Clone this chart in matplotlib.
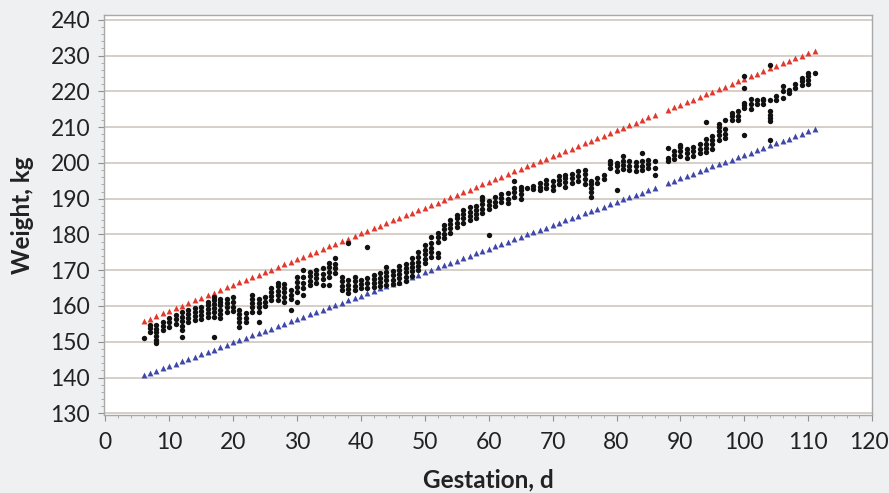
import matplotlib
matplotlib.use("Agg")
import matplotlib.pyplot as plt
from matplotlib.ticker import MultipleLocator

# ---------------- data ----------------
upper_days = [d for d in range(6, 112) if d != 87]
upper_kg = [155.8, 156.5, 157.2, 158.0, 158.7, 159.4, 160.1, 160.8, 161.6, 162.3,
            163.0, 163.7, 164.4, 165.2, 165.9, 166.6, 167.3, 168.0, 168.8, 169.5,
            170.2, 170.9, 171.6, 172.4, 173.1, 173.8, 174.5, 175.2, 176.0, 176.7,
            177.4, 178.1, 178.8, 179.6, 180.3, 181.0, 181.7, 182.4, 183.2, 183.9,
            184.6, 185.3, 186.0, 186.8, 187.5, 188.2, 188.9, 189.6, 190.4, 191.1,
            191.8, 192.5, 193.2, 194.0, 194.7, 195.4, 196.1, 196.8, 197.6, 198.3,
            199.0, 199.7, 200.4, 201.2, 201.9, 202.6, 203.3, 204.0, 204.8, 205.5,
            206.2, 206.9, 207.6, 208.4, 209.1, 209.8, 210.5, 211.2, 212.0, 212.7,
            213.4, 214.8, 215.6, 216.3, 217.0, 217.7, 218.4, 219.2, 219.9, 220.6,
            221.3, 222.0, 222.8, 223.5, 224.2, 224.9, 225.6, 226.4, 227.1, 227.8,
            228.5, 229.2, 230.0, 230.7, 231.4]
lower_days = upper_days
lower_kg = [140.6, 141.3, 141.9, 142.6, 143.2, 143.9, 144.5, 145.2, 145.8, 146.5,
            147.2, 147.8, 148.5, 149.1, 149.8, 150.4, 151.1, 151.8, 152.4, 153.1,
            153.7, 154.4, 155.0, 155.7, 156.3, 157.0, 157.7, 158.3, 159.0, 159.6,
            160.3, 160.9, 161.6, 162.2, 162.9, 163.6, 164.2, 164.9, 165.5, 166.2,
            166.8, 167.5, 168.2, 168.8, 169.5, 170.1, 170.8, 171.4, 172.1, 172.7,
            173.4, 174.1, 174.7, 175.4, 176.0, 176.7, 177.3, 178.0, 178.6, 179.3,
            180.0, 180.6, 181.3, 181.9, 182.6, 183.2, 183.9, 184.5, 185.2, 185.9,
            186.5, 187.2, 187.8, 188.5, 189.1, 189.8, 190.4, 191.1, 191.7, 192.4,
            193.1, 194.4, 195.0, 195.7, 196.3, 197.0, 197.7, 198.3, 199.0, 199.6,
            200.3, 200.9, 201.6, 202.2, 202.9, 203.6, 204.2, 204.9, 205.5, 206.2,
            206.8, 207.5, 208.1, 208.8, 209.5]

# observed sow weights by day of gestation
observed = {
    6: [151.0],
    7: [152.8, 153.8, 154.7],
    8: [149.6, 150.6, 151.6, 152.6, 153.6, 154.7],
    9: [153.3, 154.4, 155.6],
    10: [154.2, 155.4, 156.7],
    11: [155.0, 156.3, 157.6],
    12: [151.4, 153.3, 154.5, 155.7, 156.9, 158.3],
    13: [155.5, 156.7, 157.8, 159.0],
    14: [156.1, 157.2, 158.3, 159.4],
    15: [156.5, 157.6, 158.7, 159.8],
    16: [157.0, 158.1, 159.2, 160.2, 161.2],
    17: [151.4, 157.0, 158.2, 159.4, 160.6, 161.6, 162.6],
    18: [156.6, 157.8, 159.0, 160.2, 161.2, 162.0],
    19: [158.4, 159.6, 160.8, 162.0],
    20: [158.6, 159.8, 161.0, 162.6],
    21: [154.2, 155.4, 156.6, 157.7, 158.9],
    22: [155.5, 156.7, 158.0],
    23: [158.4, 159.6, 160.8, 162.0, 163.1],
    24: [155.6, 158.4, 159.6, 160.8, 162.0],
    25: [160.0, 161.2, 162.4],
    26: [161.7, 162.9, 164.0, 165.1],
    27: [161.7, 163.0, 164.3, 165.5, 166.5],
    28: [161.2, 162.5, 163.8, 165.0, 166.2],
    29: [158.9, 162.0, 163.2, 164.4],
    30: [161.2, 164.0, 165.3, 166.6, 168.0],
    31: [163.0, 165.0, 166.5, 168.0, 170.0],
    32: [165.9, 167.1, 168.3, 169.5],
    33: [166.5, 167.7, 168.9, 170.2],
    34: [165.9, 167.5, 169.0, 170.5],
    35: [166.0, 168.0, 169.5, 171.0, 172.0],
    36: [169.3, 170.6, 171.8, 173.5],
    37: [164.5, 165.7, 166.9, 168.0],
    38: [163.6, 164.8, 166.0, 167.2, 177.6],
    39: [164.5, 165.7, 166.9, 168.2],
    40: [165.0, 166.2, 167.4],
    41: [165.0, 166.5, 167.8, 176.5],
    42: [165.2, 166.4, 167.6, 168.8],
    43: [165.5, 166.7, 167.9, 169.1],
    44: [166.0, 167.2, 168.4, 169.6, 170.8],
    45: [166.2, 167.4, 168.6, 169.8],
    46: [166.5, 167.7, 168.9, 170.1, 171.3],
    47: [167.0, 168.2, 169.4, 170.6, 171.8],
    48: [168.5, 169.7, 170.9, 172.1, 173.3],
    49: [170.0, 171.2, 172.4, 173.6, 175.0],
    50: [172.0, 173.2, 174.4, 175.6, 177.0],
    51: [173.8, 175.0, 176.3, 177.5, 179.4],
    52: [173.8, 174.8, 178.0, 179.2, 180.4],
    53: [179.0, 180.2, 181.4, 182.7],
    54: [180.5, 181.7, 182.9, 184.1],
    55: [182.0, 183.3, 184.5, 185.5],
    56: [183.3, 184.5, 185.7, 186.8],
    57: [184.0, 185.2, 186.4, 187.8],
    58: [184.5, 185.7, 186.9, 188.0],
    59: [186.0, 187.2, 188.4, 189.5, 190.6],
    60: [179.9, 187.0, 188.2, 189.4],
    61: [188.0, 189.2, 190.4],
    62: [189.0, 190.2, 191.4],
    63: [188.8, 190.0, 191.6],
    64: [190.6, 191.8, 193.0, 194.8],
    65: [190.0, 191.2, 192.4, 193.4],
    66: [193.0],
    67: [192.8, 193.6],
    68: [192.5, 193.4, 194.5],
    69: [193.0, 194.2, 195.3],
    70: [192.5, 193.6, 194.8],
    71: [194.0, 195.2, 196.4],
    72: [193.4, 194.6, 195.8, 196.7],
    73: [194.5, 195.7, 196.9],
    74: [195.0, 196.2, 197.6],
    75: [194.0, 195.4, 196.8, 198.0],
    76: [190.6, 191.8, 193.0, 194.2, 195.0],
    77: [194.5, 195.8],
    78: [195.6, 196.7],
    79: [198.7, 199.6, 200.4],
    80: [192.5, 197.8, 199.0, 200.0],
    81: [198.2, 199.4, 200.6, 201.8],
    82: [198.0, 199.2, 200.4],
    83: [197.8, 199.0, 200.2],
    84: [198.0, 199.2, 200.4, 202.9],
    85: [198.5, 199.7, 200.9],
    86: [196.7, 198.5, 200.4],
    88: [200.4, 201.5, 204.3],
    89: [201.0, 202.2, 203.4],
    90: [202.0, 203.2, 204.4, 205.0],
    91: [201.5, 202.7, 203.9],
    92: [202.0, 203.2, 204.5],
    93: [202.8, 204.0, 205.2],
    94: [203.0, 204.2, 205.4, 206.6, 211.5],
    95: [204.0, 205.2, 206.4, 207.6],
    96: [206.5, 207.7, 208.9, 210.0, 211.0],
    97: [207.0, 208.2, 209.6, 212.0],
    98: [212.0, 213.0, 214.0],
    99: [212.0, 213.2, 214.4],
    100: [207.9, 215.4, 216.1, 216.8, 221.0, 224.2],
    101: [215.0, 216.4, 218.0],
    102: [216.5, 217.5],
    103: [216.5, 217.5, 218.0],
    104: [206.5, 211.6, 212.5, 213.4, 214.4, 217.5, 227.5],
    105: [217.5, 218.6],
    106: [218.2, 220.0, 221.4],
    107: [219.5, 220.5],
    108: [220.8, 222.0],
    109: [221.9, 222.9, 223.8],
    110: [222.0, 223.2, 224.4, 225.2],
    111: [225.0],
}

x_ticks = list(range(0, 121, 10))
y_ticks = list(range(130, 241, 10))
x_label = "Gestation, d"
y_label = "Weight, kg"

obs_x = [d for d, ws in observed.items() for _ in ws]
obs_y = [w for ws in observed.values() for w in ws]

# ---------------- figure ----------------
plt.rcParams['font.family'] = ['Lato', 'DejaVu Sans']
BG = "#eef0f2"
TXT = "#222222"
TICK_FS = 16.5
TICK_LEN = 4
XPAD = 8
fig = plt.figure(figsize=(8.89, 4.93), dpi=100, facecolor=BG)
ax = fig.add_axes([0.117, 0.158, 0.864, 0.812])
ax.set_facecolor("white")

ax.set_xlim(-0.2, 120)
ax.set_ylim(129.5, 241.4)
# last x label is drawn separately so that it stays inside the figure edge
ax.set_xticks(x_ticks, labels=[str(t) for t in x_ticks[:-1]] + [""])
ax.set_yticks(y_ticks)
ax.xaxis.set_minor_locator(MultipleLocator(2))
ax.yaxis.set_minor_locator(MultipleLocator(2))

ax.grid(axis="y", which="major", color="#d6cfc8", linewidth=1.4, zorder=0)
ax.set_axisbelow(True)

for s in ax.spines.values():
    s.set_color("#a8a8a8")
    s.set_linewidth(1.0)

ax.tick_params(axis="both", which="major", direction="out", length=TICK_LEN,
               color="#909090", labelsize=TICK_FS, labelcolor=TXT)
ax.tick_params(axis="both", which="minor", direction="out", length=2,
               color="#a0a0a0")
ax.tick_params(axis="x", which="major", pad=XPAD)
ax.tick_params(axis="y", which="major", pad=6)

ax.annotate(str(x_ticks[-1]), xy=(x_ticks[-1], 0),
            xycoords=ax.get_xaxis_transform(),
            xytext=(-2.5, -(TICK_LEN + XPAD)), textcoords="offset points",
            ha="center", va="top", fontsize=TICK_FS, color=TXT,
            annotation_clip=False)

ax.scatter(upper_days, upper_kg, marker="^", s=18, color="#e03a2e",
           linewidths=0, zorder=3)
ax.scatter(lower_days, lower_kg, marker="^", s=18, color="#3f47a8",
           linewidths=0, zorder=3)
ax.scatter(obs_x, obs_y, marker="o", s=15, color="#111111",
           linewidths=0, zorder=4)

ax.set_xlabel(x_label, fontsize=17.5, fontweight="bold", color=TXT,
              labelpad=11)
ax.set_ylabel(y_label, fontsize=17.5, fontweight="bold", color=TXT,
              labelpad=12)

fig.savefig("out.png", dpi=100, facecolor=BG)
